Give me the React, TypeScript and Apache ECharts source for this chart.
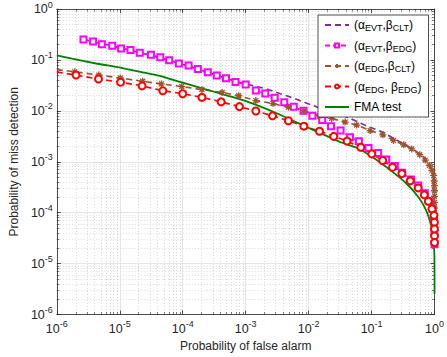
import React, { useEffect, useRef } from 'react';
import * as echarts from 'echarts';

const FONT = '"Liberation Sans", Arial, Helvetica, sans-serif';

const seriesNames = ['evtClt', 'evtEdg', 'edgClt', 'edgEdg', 'fma'];
const legendLabels: Record<string, string> = {
  evtClt: '(α{s|EVT},β{s|CLT})',
  evtEdg: '(α{s|EVT},β{s|EDG})',
  edgClt: '(α{s|EDG},β{s|CLT})',
  edgEdg: '(α{s|EDG}, β{s|EDG})',
  fma: 'FMA test',
};

// (alpha_EVT, beta_CLT) purple dashed
const evtCltPoints = [
  [2.65e-6, 0.251], [7.6e-6, 0.19], [2.08e-5, 0.139], [6.1e-5, 0.0986], [1.74e-4, 0.066],
  [4.87e-4, 0.0436], [1.0e-3, 0.0338], [2.11e-3, 0.0271], [3.57e-3, 0.0217], [5.7e-3, 0.0179],
  [9.1e-3, 0.0143], [0.0146, 0.0115], [0.0247, 9.4e-3], [0.0394, 7.7e-3], [0.0893, 4.9e-3],
  [0.143, 3.93e-3], [0.243, 2.73e-3], [0.361, 2.09e-3], [0.513, 1.6e-3], [0.68, 1.22e-3],
  [0.82, 9.4e-4], [0.92, 7.0e-4], [0.975, 4.9e-4], [0.995, 3.1e-4], [0.9995, 1.29e-4], [0.9999, 4.2e-5],
];

// (alpha_EVT, beta_EDG) magenta squares
const evtEdgPoints = [
  [2.65e-6, 0.251], [3.77e-6, 0.23], [5.2e-6, 0.204], [7.6e-6, 0.19], [1.05e-5, 0.168],
  [1.48e-5, 0.156], [2.08e-5, 0.139], [3.13e-5, 0.126], [4.4e-5, 0.113], [6.1e-5, 0.0986],
  [8.7e-5, 0.0851], [1.24e-4, 0.0778], [1.74e-4, 0.066], [2.5e-4, 0.057], [3.48e-4, 0.0494],
  [4.87e-4, 0.0436], [6.9e-4, 0.037], [1.0e-3, 0.0328], [1.45e-3, 0.0251], [2.05e-3, 0.0219],
  [2.89e-3, 0.0181], [4.1e-3, 0.0148], [5.8e-3, 0.0121], [8.3e-3, 0.01], [0.0115, 8.0e-3],
  [0.0164, 6.6e-3], [0.0227, 5.0e-3], [0.0322, 4.1e-3], [0.0453, 3.05e-3], [0.0628, 2.52e-3],
  [0.0893, 1.87e-3], [0.127, 1.49e-3], [0.171, 1.11e-3], [0.234, 8.3e-4], [0.306, 6.1e-4],
  [0.425, 4.5e-4], [0.55, 3.43e-4], [0.7, 2.4e-4], [0.84, 1.68e-4], [0.93, 1.18e-4],
  [0.975, 7.5e-5], [0.995, 4.2e-5], [0.999, 2.4e-5],
];

// (alpha_EDG, beta_CLT) brown asterisks
const edgCltPoints = [
  [1e-6, 0.0645], [1.93e-6, 0.0585], [4.65e-6, 0.0505], [1.02e-5, 0.0442], [2.31e-5, 0.0381],
  [4.57e-5, 0.0338], [9.66e-5, 0.03], [2.02e-4, 0.0262], [4.23e-4, 0.023], [7.76e-4, 0.0198],
  [1.45e-3, 0.0159], [2.72e-3, 0.0139], [4.77e-3, 0.0118], [8.39e-3, 0.01], [0.0149, 8.0e-3],
  [0.0232, 7.1e-3], [0.038, 6.03e-3], [0.058, 5.27e-3], [0.0948, 4.11e-3], [0.151, 3.38e-3],
  [0.223, 2.63e-3], [0.324, 2.16e-3], [0.434, 1.79e-3], [0.583, 1.38e-3], [0.711, 1.08e-3],
  [0.83, 8.5e-4], [0.91, 6.8e-4], [0.966, 5.4e-4], [0.985, 4.2e-4], [0.993, 3.4e-4],
  [0.997, 2.7e-4], [0.998, 2.1e-4], [0.999, 1.6e-4], [0.9993, 1.23e-4], [0.9995, 9.4e-5],
  [0.9997, 6.9e-5], [0.9998, 5.1e-5], [0.9999, 3.7e-5], [0.99995, 2.7e-5],
];

// (alpha_EDG, beta_EDG) red circles
const edgEdgPoints = [
  [1e-6, 0.0577], [2.02e-6, 0.0505], [4.6e-6, 0.0422], [1.03e-5, 0.0365], [2.26e-5, 0.0309],
  [4.83e-5, 0.0248], [1.0e-4, 0.0217], [2.02e-4, 0.0184], [4.08e-4, 0.015], [7.96e-4, 0.0121],
  [1.45e-3, 9.93e-3], [2.67e-3, 8.0e-3], [4.77e-3, 6.4e-3], [8.39e-3, 5.0e-3], [0.0149, 3.98e-3],
  [0.0251, 3.15e-3], [0.0408, 2.55e-3], [0.0675, 1.93e-3], [0.1007, 1.43e-3], [0.15, 1.06e-3],
  [0.215, 7.83e-4], [0.303, 5.86e-4], [0.411, 4.23e-4], [0.55, 3.07e-4], [0.687, 2.25e-4],
  [0.796, 1.68e-4], [0.91, 1.19e-4], [0.982, 8.9e-5], [0.995, 6.5e-5], [0.998, 4.8e-5],
  [0.999, 3.5e-5], [0.9995, 2.6e-5],
];

// FMA test green solid
const fmaPoints = [
  [1e-6, 0.123], [1.75e-6, 0.106], [4.22e-6, 0.0851], [1.02e-5, 0.0705], [2.31e-5, 0.057],
  [4.15e-5, 0.049], [9.4e-5, 0.0365], [3.05e-4, 0.024], [9.8e-4, 0.0157], [3.17e-3, 8.89e-3],
  [0.0103, 4.55e-3], [0.033, 2.39e-3], [0.0594, 1.87e-3], [0.107, 1.2e-3], [0.191, 7.1e-4],
  [0.344, 3.92e-4], [0.55, 2.06e-4], [0.736, 1.11e-4], [0.878, 5.8e-5], [0.948, 3.38e-5],
  [0.989, 1.73e-5], [0.998, 8.9e-6], [0.9999, 2.55e-6],
];

const axisMin = 1e-6;
const axisMax = 1;

const AXIS_COLOR = '#262626';
const STAR = 'path://M5,0L5,10M0,5L10,5M1.5,1.5L8.5,8.5M8.5,1.5L1.5,8.5';

function expLabel(v: number) {
  const e = Math.round(Math.log10(v));
  return '{b|10}{s|' + e + '}';
}

const labelRich = {
  b: { fontSize: 12.5, fontFamily: FONT, color: AXIS_COLOR },
  s: { fontSize: 9, fontFamily: FONT, color: AXIS_COLOR, padding: [0, 0, 9, 0] },
};

function baseAxis(extra: any) {
  return {
    type: 'log',
    logBase: 10,
    min: axisMin,
    max: axisMax,
    axisLine: { show: true, onZero: false, lineStyle: { color: AXIS_COLOR, width: 0.8 } },
    axisTick: { show: true, inside: true, length: 4, lineStyle: { color: AXIS_COLOR, width: 0.8 } },
    minorTick: { show: true, splitNumber: 9, length: 2.5, lineStyle: { color: AXIS_COLOR, width: 0.6 } },
    ...extra,
  };
}

function markerless(points: number[][]) {
  return points.map((p, i) => (i === 0 ? { value: p, symbol: 'none' } : { value: p }));
}

export default function App() {
  const ref = useRef<HTMLDivElement>(null);
  useEffect(() => {
    if (!ref.current) return;
    const chart = echarts.init(ref.current, undefined, { renderer: 'svg' });
    const option: any = {
      animation: false,
      backgroundColor: '#ffffff',
      grid: { left: 44, right: 10, top: 9, bottom: 38, containLabel: false },
      legend: {
        data: [
          { name: seriesNames[0], itemStyle: { opacity: 0 } },
          { name: seriesNames[1] },
          { name: seriesNames[2] },
          { name: seriesNames[3] },
          { name: seriesNames[4], itemStyle: { opacity: 0 } },
        ],
        orient: 'vertical',
        left: 318,
        top: 15,
        backgroundColor: '#ffffff',
        borderColor: AXIS_COLOR,
        borderWidth: 0.8,
        borderRadius: 0,
        padding: [4, 7, 4, 6],
        itemWidth: 24,
        itemHeight: 5,
        itemGap: 7,
        formatter: (name: string) => legendLabels[name],
        textStyle: {
          fontSize: 12,
          fontFamily: FONT,
          color: '#000000',
          rich: {
            s: { fontSize: 9, fontFamily: FONT, color: '#000000', padding: [6, 0, 0, 0] },
          },
        },
      },
      xAxis: [
        baseAxis({
          position: 'bottom',
          name: 'Probability of false alarm',
          nameLocation: 'middle',
          nameGap: 23,
          nameTextStyle: { fontSize: 12, fontFamily: FONT, color: AXIS_COLOR, verticalAlign: 'top' },
          axisLabel: { show: true, margin: 5, formatter: expLabel, rich: labelRich },
          splitLine: { show: true, lineStyle: { color: '#dedede', width: 0.8 } },
          minorSplitLine: { show: true, lineStyle: { color: '#cccccc', width: 0.7, type: [1, 2] } },
        }),
        baseAxis({
          position: 'top',
          axisLabel: { show: false },
          splitLine: { show: false },
        }),
      ],
      yAxis: [
        baseAxis({
          position: 'left',
          name: 'Probability of miss detection',
          nameLocation: 'middle',
          nameGap: 35,
          nameTextStyle: { fontSize: 12, fontFamily: FONT, color: AXIS_COLOR },
          axisLabel: { show: true, margin: 4, formatter: expLabel, rich: labelRich },
          splitLine: { show: true, lineStyle: { color: '#dedede', width: 0.8 } },
          minorSplitLine: { show: true, lineStyle: { color: '#cccccc', width: 0.7, type: [1, 2] } },
        }),
        baseAxis({
          position: 'right',
          axisLabel: { show: false },
          splitLine: { show: false },
        }),
      ],
      series: [
        {
          name: 'evtClt',
          type: 'line',
          xAxisIndex: 0,
          yAxisIndex: 0,
          data: evtCltPoints,
          symbol: 'none',
          lineStyle: { color: '#7E2F8E', width: 1.6, type: [6, 4] },
          itemStyle: { color: '#7E2F8E' },
        },
        {
          name: 'evtEdg',
          type: 'line',
          xAxisIndex: 0,
          yAxisIndex: 0,
          data: evtEdgPoints,
          symbol: 'emptyRect',
          symbolSize: 6,
          showAllSymbol: true,
          lineStyle: { color: '#FF00FF', width: 1.2, type: [5, 3] },
          itemStyle: { color: '#FF00FF', borderColor: '#FF00FF', borderWidth: 1.3 },
        },
        {
          name: 'edgClt',
          type: 'line',
          xAxisIndex: 0,
          yAxisIndex: 0,
          data: markerless(edgCltPoints),
          symbol: STAR,
          symbolSize: 7,
          showAllSymbol: true,
          lineStyle: { color: '#A0522D', width: 1.6, type: [6, 4] },
          itemStyle: { color: '#A0522D', borderColor: '#A0522D', borderWidth: 1.3 },
        },
        {
          name: 'edgEdg',
          type: 'line',
          xAxisIndex: 0,
          yAxisIndex: 0,
          data: markerless(edgEdgPoints),
          symbol: 'emptyCircle',
          symbolSize: 7,
          showAllSymbol: true,
          lineStyle: { color: '#FF0000', width: 1.6, type: [6, 4] },
          itemStyle: { color: '#FF0000', borderColor: '#FF0000', borderWidth: 1.6 },
        },
        {
          name: 'fma',
          type: 'line',
          xAxisIndex: 0,
          yAxisIndex: 0,
          data: fmaPoints,
          symbol: 'none',
          smooth: 0.2,
          lineStyle: { color: '#008000', width: 1.8 },
          itemStyle: { color: '#008000' },
        },
      ],
    };
    chart.setOption(option);
    return () => chart.dispose();
  }, []);
  return (
    <div
      ref={ref}
      style={{ position: 'absolute', left: 0, top: 0, width: 447, height: 357 }}
    />
  );
}
